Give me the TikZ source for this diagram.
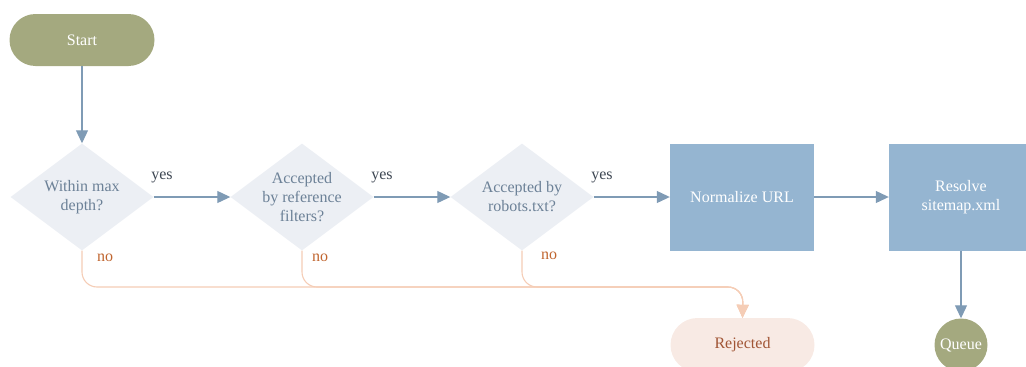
\documentclass[tikz,border=0pt]{standalone}
\usepackage{fontspec}
\setmainfont{Liberation Serif}
\usetikzlibrary{shapes.geometric,arrows.meta}
\definecolor{olivefill}{HTML}{A4A97F}
\definecolor{decfill}{HTML}{ECEFF4}
\definecolor{dectext}{HTML}{6C8197}
\definecolor{procfill}{HTML}{95B5D1}
\definecolor{flowblue}{HTML}{7F9BB5}
\definecolor{noline}{HTML}{F5CDB6}
\definecolor{notext}{HTML}{C0652F}
\definecolor{rejfill}{HTML}{F8EAE4}
\definecolor{rejtext}{HTML}{A15535}
\definecolor{yestext}{HTML}{3E4753}
\begin{document}
\begin{tikzpicture}[x=1pt,y=-1pt,
  font=\fontsize{16}{19}\selectfont,
  terminal/.style={rectangle,fill=olivefill,text=white,minimum width=145pt,minimum height=52pt,rounded corners=26pt,inner sep=0pt},
  decision/.style={diamond,fill=decfill,minimum width=143pt,minimum height=107pt,inner sep=0pt},
  dtext/.style={text=dectext,align=center,inner sep=0pt},
  process/.style={rectangle,fill=procfill,text=white,align=center,minimum width=144pt,minimum height=107pt,inner sep=0pt},
  queuenode/.style={circle,fill=olivefill,text=white,minimum size=53pt,inner sep=0pt},
  rejnode/.style={rectangle,fill=rejfill,text=rejtext,minimum width=144pt,minimum height=54pt,rounded corners=27pt,inner sep=0pt},
  flow/.style={draw=flowblue,line width=1.1pt,-{Triangle[width=12pt,length=13pt]}},
  noflow/.style={draw=noline,line width=1.1pt,rounded corners=15pt,-{Triangle[width=12pt,length=13pt]}},
  yeslbl/.style={text=yestext,inner sep=0pt},
  nolbl/.style={text=notext,inner sep=0pt}]
\useasboundingbox (0,0) rectangle (1026,367);
\clip (0,0) rectangle (1026,367);

% nodes
\node[terminal] (start) at (82,40) {Start};
\node[decision] (d1) at (82,197) {};
\node[dtext] (d1t) at (d1) {Within max\\depth?};
\node[decision] (d2) at (302,197) {};
\node[dtext] (d2t) at (d2) {Accepted\\by reference\\filters?};
\node[decision] (d3) at (522,197) {};
\node[dtext] (d3t) at (d3) {Accepted by\\robots.txt?};
\node[process] (norm) at (742,197) {Normalize URL};
\node[process] (res) at (961,197) {Resolve\\sitemap.xml};
\node[queuenode] (queue) at (961,345) {Queue};
\node[rejnode] (rej) at (742.5,345) {Rejected};
\coordinate (bus) at (743,287);

% accepted path
\draw[flow] (start) -- (d1.north);
\draw[flow] (d1.east) -- (d2.west);
\draw[flow] (d2.east) -- (d3.west);
\draw[flow] (d3.east) -- (norm.west);
\draw[flow] (norm.east) -- (res.west);
\draw[flow] (res.south) -- (queue.north);

\node[yeslbl] (y1) at (162,177) {yes};
\node[yeslbl] (y2) at (382,177) {yes};
\node[yeslbl] (y3) at (602,177) {yes};

% rejection paths
\draw[noflow] (d1.south) |- (bus) -- (rej.north);
\draw[noflow] (d2.south) |- (bus) -- (rej.north);
\draw[noflow] (d3.south) |- (bus) -- (rej.north);

\node[nolbl] (n1) at (105,258) {no};
\node[nolbl] (n2) at (320,258) {no};
\node[nolbl] (n3) at (549,256) {no};
\end{tikzpicture}
\end{document}
